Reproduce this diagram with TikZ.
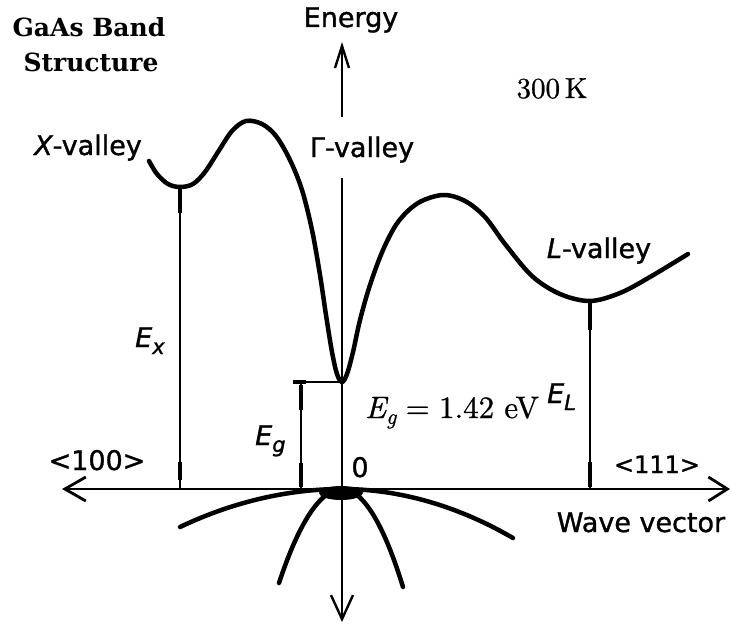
\documentclass[tikz,border=0pt]{standalone}
\usepackage{fontspec}
\newfontfamily\labfont[FakeBold=1.2]{DejaVu Sans}
\newfontfamily\titlefont{DejaVu Serif}
\newfontfamily\cmfont[FakeBold=0.8, ItalicFont=lmroman10-italic.otf, ItalicFeatures={FakeBold=0.8}]{lmroman10-regular.otf}
\usetikzlibrary{arrows.meta}
\newcommand{\lsub}[1]{\raisebox{-7pt}{\fontsize{21}{21}\selectfont\itshape #1}}
\newcommand{\ssub}[1]{\raisebox{-6pt}{\fontsize{22}{22}\selectfont\itshape #1}}
\begin{document}
\begin{tikzpicture}[x=1pt,y=-1pt,
  lbl/.style={font=\labfont\fontsize{27}{30}\selectfont, inner sep=0pt, anchor=base},
  ttl/.style={font=\titlefont\bfseries\fontsize{25}{30}\selectfont, inner sep=0pt, anchor=base},
  serif/.style={font=\cmfont\fontsize{29}{32}\selectfont, inner sep=0pt, anchor=base},
  band/.style={line width=4.5pt, line cap=round, line join=round},
  haxis/.style={line width=2.8pt},
  vaxis/.style={line width=2.4pt},
  dimline/.style={line width=1.2pt},
  dimend/.style={line width=3.6pt}]
\useasboundingbox (0,0) rectangle (731,626);

% coordinates
\coordinate (O) at (342,489);
\coordinate (ytop) at (342,42);
\coordinate (ygapt) at (342,117);
\coordinate (ygapb) at (342,178);
\coordinate (ybot) at (342,622);
\coordinate (xl) at (62,489);
\coordinate (xr) at (730,489);
\coordinate (Xmin) at (180,187);
\coordinate (Gmin) at (342,382);
\coordinate (Lmin) at (590,301);
\coordinate (Xax) at (180,489);
\coordinate (Gax) at (301,489);
\coordinate (Gtop) at (301,382);
\coordinate (Gtick) at (293,382);
\coordinate (Lax) at (590,489);

% axes
\draw[haxis, {Straight Barb[length=21pt,width=24pt]}-{Straight Barb[length=19pt,width=24pt]}] (xl) -- (xr);
\draw[vaxis, -{Straight Barb[length=22pt,width=14pt]}] (ygapt) -- (ytop);
\draw[vaxis, -{Straight Barb[length=24pt,width=22pt]}] (ygapb) -- (ybot);

% conduction band
\draw[band] plot[smooth, tension=0.55] coordinates {
  (149,161) (157,174) (168,184) (180,187) (193,184) (205,172) (218,152)
  (232,131) (246,121) (262,124) (276,136) (290,160) (302,190) (312,230)
  (320,275) (326,315) (332,352) (337,374) (342,382) (347,374) (353,352)
  (360,320) (370,285) (383,250) (398,222) (418,203) (443,195) (465,201)
  (485,217) (505,244) (532,276) (560,294) (590,301) (620,293) (650,277)
  (688,254)};

% valence bands
\draw[band] (180,527) parabola bend (O) (513,538);
\draw[band] (279,583) parabola bend (O) (403,587);
\fill (341,493) ellipse [x radius=22pt, y radius=7pt];

% energy separations
\draw[dimline] (Xmin) -- (Xax);
\draw[dimend] (180,189) -- (180,213);
\draw[dimend] (180,462) -- (180,480);

\draw[dimline] (Gtick) -- (Gmin);
\draw[dimline] (Gtop) -- (Gax);
\draw[dimend] (293,382) -- (306,382);
\draw[dimend] (301,385) -- (301,410);
\draw[dimend] (301,463) -- (301,487);

\draw[dimline] (Lmin) -- (Lax);
\draw[dimend] (590,302) -- (590,330);
\draw[dimend] (590,462) -- (590,487);

% labels
\node[ttl] (t1) at (89,37) {GaAs Band};
\node[ttl] (t2) at (91,72) {Structure};
\node[lbl] (energy) at (351,27) {Energy};
\node[serif] (temp) at (552,98) {300\,K};
\node[lbl] (xv) at (88,155) {\itshape X\upshape-valley};
\node[lbl] (gv) at (362,157) {Γ-valley};
\node[lbl] (lv) at (599,258) {\itshape L\upshape-valley};
\node[lbl, anchor=base west] (ex) at (135,347) {\itshape E\lsub{x}};
\node[lbl, anchor=base west] (eg) at (255,445) {\itshape E\lsub{g}};
\node[lbl, anchor=base west] (el) at (547,403) {\itshape E\lsub{L}};
\node[lbl] (zero) at (360,477) {0};
\node[lbl] (h100) at (97,470) {<100>};
\node[lbl, font=\labfont\fontsize{24}{28}\selectfont] (h111) at (657,473) {<111>};
\node[lbl] (wv) at (641,532) {Wave vector};
\node[serif, font=\cmfont\fontsize{31}{34}\selectfont, anchor=base west] (egv) at (365,418) {{\itshape E}\ssub{g}\hspace{0.3em}=\hspace{0.3em}1.42\hspace{0.33em}eV};
\end{tikzpicture}
\end{document}
